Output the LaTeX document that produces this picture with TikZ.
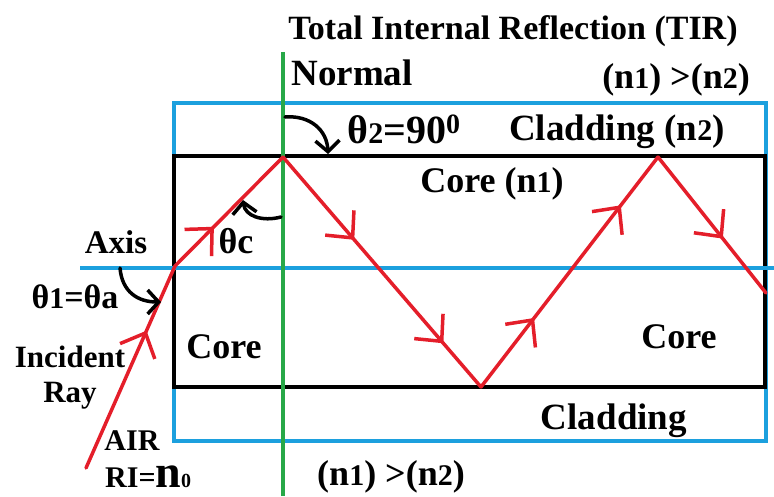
\documentclass[tikz,border=0pt]{standalone}
\usepackage{fontspec}
\setmainfont{Liberation Serif}
\usetikzlibrary{arrows.meta,decorations.markings}
\definecolor{gaineblue}{RGB}{28,160,222}
\definecolor{normalgreen}{RGB}{40,168,72}
\definecolor{rayred}{RGB}{228,30,42}
\newcommand{\taille}[1]{\fontsize{#1}{#1}\selectfont}
\newcommand{\idx}[1]{{\taille{30}#1}}
\tikzset{
  lbl/.style={font=\bfseries\taille{#1}, inner sep=0pt, anchor=base, align=center},
  lbl/.default=36,
  gaine/.style={draw=gaineblue, line width=4.5pt},
  coeur/.style={draw=black, line width=4pt},
  normale/.style={draw=normalgreen, line width=3.5pt},
  rayon/.style={draw=rayred, line width=3.5pt, line cap=round, line join=round},
  chevron/.style={postaction={decorate,
    decoration={markings, mark=at position #1 with
      {\arrow[rayred, line width=3.5pt]{Straight Barb[length=20pt,width=38pt]}}}}},
  angle/.style={draw=black, line width=3.5pt, line cap=round,
    -{Straight Barb[length=11pt,width=24pt]}},
}
\begin{document}
\begin{tikzpicture}[x=1pt,y=-1pt]
  \useasboundingbox (0,0) rectangle (774,496);
  % Fibre : gaine, coeur, axe, normale
  \draw[gaine] (174,103) rectangle (766,441);
  \draw[coeur] (174,156) rectangle (765,387);
  \draw[gaine] (80,268) -- (774,268);
  \draw[normale] (283,52) -- (283,496);
  % Rayon lumineux
  \coordinate (src)    at (86,468);
  \coordinate (entree) at (175,266);
  \coordinate (haut1)  at (283,157);
  \coordinate (bas1)   at (481,387);
  \coordinate (haut2)  at (658,157);
  \coordinate (sortie) at (766,293);
  \draw[rayon, chevron=0.68] (src) -- (entree);
  \draw[rayon, chevron=0.36] (entree) -- (haut1);
  \draw[rayon, chevron=0.36, chevron=0.81] (haut1) -- (bas1);
  \draw[rayon, chevron=0.30, chevron=0.79] (bas1) -- (haut2);
  \draw[rayon, chevron=0.60] (haut2) -- (sortie);
  % Textes
  \node[lbl=34] (titre)   at (513,39)  {Total Internal Reflection (TIR)};
  \node[lbl=37] (normal)  at (352,85)  {Normal};
  \node[lbl]    (indhaut) at (676,88)  {(n\idx{1}) >(n\idx{2})};
  \node[lbl=40] (theta2)  at (404,143) {θ\idx{2}=90\textsuperscript{0}};
  \node[lbl=37] (gaineh)  at (617,140) {Cladding (n\idx{2})};
  \node[lbl]    (coeurh)  at (492,192) {Core (n\idx{1})};
  \node[lbl]    (thetac)  at (236,253) {θc};
  \node[lbl=33] (axe)     at (116,253) {Axis};
  \node[lbl=34] (theta1)  at (75,308)  {θ\idx{1}=θa};
  \node[lbl=31] (incid)   at (70,367)  {Incident};
  \node[lbl=31] (rayname) at (70,402)  {Ray};
  \node[lbl]    (coeurg)  at (224,358) {Core};
  \node[lbl]    (coeurd)  at (679,348) {Core};
  \node[lbl=37] (gaineb)  at (614,429) {Cladding};
  \node[lbl=30] (air)     at (132,450) {AIR};
  \node[lbl=30, anchor=base west] (indice) at (105,487)
    {RI={\taille{46}n}{\taille{20}0}};
  \node[lbl]    (indbas)  at (391,485) {(n\idx{1}) >(n\idx{2})};
  % Fleches d'angle
  \coordinate (a1s) at (120,268);
  \coordinate (a1e) at (161,302);
  \draw[angle] (a1s) .. controls (122,292) and (138,302) .. (a1e);
  \coordinate (acs) at (281,217);
  \coordinate (ace) at (243,200);
  \draw[angle] (acs) .. controls (262,222) and (245,216) .. (ace);
  \coordinate (a2s) at (285,117);
  \coordinate (a2e) at (328,154);
  \draw[angle] (a2s) .. controls (310,115) and (327,130) .. (a2e);
\end{tikzpicture}
\end{document}
